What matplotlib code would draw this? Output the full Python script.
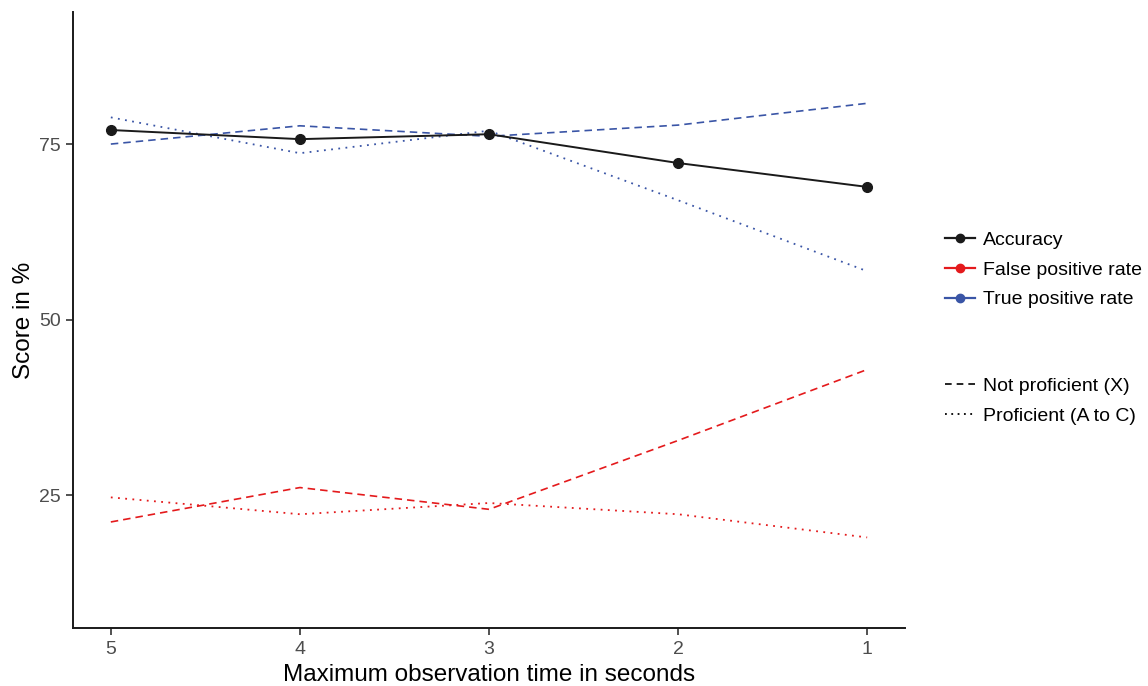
import numpy as np
import matplotlib
matplotlib.use("Agg")
import matplotlib.pyplot as plt
from matplotlib.lines import Line2D

plt.rcParams['font.family'] = ['Liberation Sans', 'DejaVu Sans']

seconds = [5, 4, 3, 2, 1]
accuracy = [77.0, 75.7, 76.4, 72.3, 68.9]
tpr_not_prof = [75.0, 77.6, 76.1, 77.7, 80.8]
tpr_prof = [78.8, 73.7, 76.9, 67.0, 56.9]
fpr_not_prof = [21.2, 26.1, 23.0, 32.8, 42.9]
fpr_prof = [24.7, 22.3, 23.9, 22.3, 19.0]

c_acc = "#1a1a1a"
c_fpr = "#e41a1c"
c_tpr = "#3a55a6"

fig = plt.figure(figsize=(11.48, 6.86), dpi=100)
ax = fig.add_axes([0.0636, 0.0845, 0.7247, 0.898])

ax.plot(seconds, tpr_not_prof, color=c_tpr, linestyle=(0, (4.5, 3)), linewidth=1.2)
ax.plot(seconds, tpr_prof, color=c_tpr, linestyle=(0, (1, 3)), linewidth=1.3)
ax.plot(seconds, fpr_not_prof, color=c_fpr, linestyle=(0, (4.5, 3)), linewidth=1.2)
ax.plot(seconds, fpr_prof, color=c_fpr, linestyle=(0, (1, 3)), linewidth=1.3)
ax.plot(seconds, accuracy, color=c_acc, linewidth=1.4, marker="o", markersize=7)

ax.set_xlim(5.2, 0.8)
ax.set_ylim(6.1, 93.8)
ax.set_xticks(seconds)
ax.set_yticks([25, 50, 75])
ax.spines["top"].set_visible(False)
ax.spines["right"].set_visible(False)
for s in ["left", "bottom"]:
    ax.spines[s].set_linewidth(1.4)
    ax.spines[s].set_color("#1a1a1a")
ax.tick_params(axis="both", labelsize=14, labelcolor="#4d4d4d", length=5, width=1.2,
               color="#333333", pad=4)
ax.set_xlabel("Maximum observation time in seconds", fontsize=17.5, color="black", labelpad=5)
ax.set_ylabel("Score in %", fontsize=17.5, color="black", labelpad=3)

h1 = [Line2D([], [], color=c, marker="o", markersize=6, linewidth=1.6)
      for c in [c_acc, c_fpr, c_tpr]]
fig.legend(h1, ["Accuracy", "False positive rate", "True positive rate"],
           loc="upper left", bbox_to_anchor=(0.808, 0.688), frameon=False,
           fontsize=14, handlelength=1.55, handletextpad=0.4, labelspacing=0.62)
h2 = [Line2D([], [], color="black", linestyle=(0, (4, 3)), linewidth=1.2),
      Line2D([], [], color="black", linestyle=(0, (1, 2.5)), linewidth=1.3)]
fig.legend(h2, ["Not proficient (X)", "Proficient (A to C)"],
           loc="upper left", bbox_to_anchor=(0.808, 0.475), frameon=False,
           fontsize=14, handlelength=1.55, handletextpad=0.4, labelspacing=0.62)

fig.savefig("out.png", dpi=100)
